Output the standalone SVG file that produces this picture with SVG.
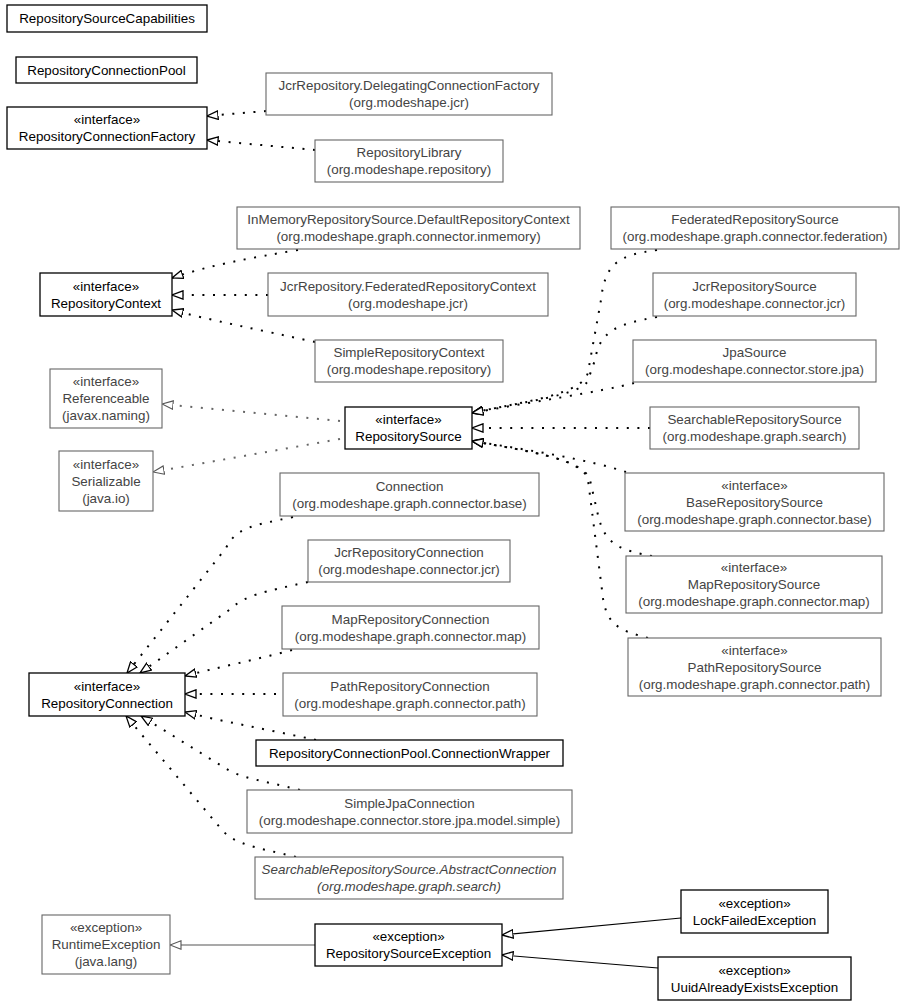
<svg xmlns="http://www.w3.org/2000/svg" width="904" height="1005" viewBox="0 0 904 1005">
<defs>
<style>
text{font-family:"Liberation Sans",Arial,sans-serif;font-size:13.4px;text-anchor:middle}
.b rect{fill:#fff;stroke:#000;stroke-width:1.3}
.b text{fill:#000}
.g rect{fill:#fff;stroke:#666;stroke-width:1.1}
.g text{fill:#444}
.i text{font-style:italic}
.d{fill:none;stroke:#000;stroke-width:2;stroke-dasharray:2 8.6;stroke-linecap:butt}
.dg{fill:none;stroke:#666;stroke-width:2;stroke-dasharray:2 8.6}
.s{fill:none;stroke:#000;stroke-width:1.2}
.sg{fill:none;stroke:#555;stroke-width:1.1}
</style>
<marker id="a" viewBox="0 0 12 10" refX="11.5" refY="5" markerWidth="12" markerHeight="10" markerUnits="userSpaceOnUse" orient="auto"><path d="M0.5,0.8 L11.5,5 L0.5,9.2 z" fill="#fff" stroke="#000" stroke-width="1.3"/></marker>
<marker id="ag" viewBox="0 0 12 10" refX="11.5" refY="5" markerWidth="12" markerHeight="10" markerUnits="userSpaceOnUse" orient="auto"><path d="M0.5,0.8 L11.5,5 L0.5,9.2 z" fill="#fff" stroke="#555" stroke-width="1.1"/></marker>
</defs>
<g id="connectors">
<path class="d" d="M266,111 L207,116" marker-end="url(#a)"/>
<path class="d" d="M315,150 L207,140" marker-end="url(#a)"/>
<path class="d" d="M298,250 C250,258 210,265 172,278" marker-end="url(#a)"/>
<path class="d" d="M268,295 L172,295" marker-end="url(#a)"/>
<path class="d" d="M315,342 C260,330 210,320 172,310" marker-end="url(#a)"/>
<path class="dg" d="M340,421 L162,404" marker-end="url(#ag)"/>
<path class="dg" d="M340,439 L153,472" marker-end="url(#ag)"/>
<path class="d" d="M657,250 C620,255 605,262 601,300 L588,372 C584,395 520,402 472,413" marker-end="url(#a)"/>
<path class="d" d="M657,317 C618,324 600,330 595,360 L588,380 C584,395 520,402 472,413" marker-end="url(#a)"/>
<path class="d" d="M634,383 C600,392 530,402 472,413" marker-end="url(#a)"/>
<path class="d" d="M650,428 L472,428" marker-end="url(#a)"/>
<path class="d" d="M626,472 C590,460 530,450 472,441" marker-end="url(#a)"/>
<path class="d" d="M652,556 C620,550 605,545 598,515 L590,480 C584,458 520,450 472,441" marker-end="url(#a)"/>
<path class="d" d="M648,638 C618,630 605,625 602,590 L588,480 C584,458 520,450 472,441" marker-end="url(#a)"/>
<path class="d" d="M293,517 C250,526 236,528 226,548 L127,673" marker-end="url(#a)"/>
<path class="d" d="M308,582 C262,592 244,596 232,608 L140,673" marker-end="url(#a)"/>
<path class="d" d="M292,650 C255,660 215,668 185,676" marker-end="url(#a)"/>
<path class="d" d="M276,694 L185,694" marker-end="url(#a)"/>
<path class="d" d="M316,740 C270,730 220,721 185,712" marker-end="url(#a)"/>
<path class="d" d="M300,790 C260,780 240,778 225,768 L141,716" marker-end="url(#a)"/>
<path class="d" d="M296,857 C255,847 236,845 222,830 L126,716" marker-end="url(#a)"/>
<path class="sg" d="M315,945 L170,945" marker-end="url(#ag)"/>
<path class="s" d="M681,918 L502,935" marker-end="url(#a)"/>
<path class="s" d="M658,968 L502,955" marker-end="url(#a)"/>
</g>
<g id="RepositorySourceCapabilities" class="b"><rect x="7" y="5" width="200" height="27"/><text x="107" y="23">RepositorySourceCapabilities</text></g>
<g id="RepositoryConnectionPool" class="b"><rect x="16" y="57" width="181" height="26"/><text x="106.5" y="74.5">RepositoryConnectionPool</text></g>
<g id="RepositoryConnectionFactory" class="b"><rect x="7" y="107" width="200" height="42"/><text x="107" y="124">«interface»</text><text x="107" y="141">RepositoryConnectionFactory</text></g>
<g id="DelegatingConnectionFactory" class="g"><rect x="266" y="73" width="286" height="42"/><text x="409" y="90">JcrRepository.DelegatingConnectionFactory</text><text x="409" y="107">(org.modeshape.jcr)</text></g>
<g id="RepositoryLibrary" class="g"><rect x="315" y="140" width="188" height="42"/><text x="409" y="157">RepositoryLibrary</text><text x="409" y="174">(org.modeshape.repository)</text></g>
<g id="DefaultRepositoryContext" class="g"><rect x="237" y="207" width="343" height="42"/><text x="408.5" y="224">InMemoryRepositorySource.DefaultRepositoryContext</text><text x="408.5" y="241">(org.modeshape.graph.connector.inmemory)</text></g>
<g id="RepositoryContext" class="b"><rect x="40" y="273" width="132" height="43"/><text x="106" y="290.5">«interface»</text><text x="106" y="307.5">RepositoryContext</text></g>
<g id="FederatedRepositoryContext" class="g"><rect x="268" y="273" width="280" height="43"/><text x="408" y="290.5">JcrRepository.FederatedRepositoryContext</text><text x="408" y="307.5">(org.modeshape.jcr)</text></g>
<g id="SimpleRepositoryContext" class="g"><rect x="315" y="340" width="188" height="42"/><text x="409" y="357">SimpleRepositoryContext</text><text x="409" y="374">(org.modeshape.repository)</text></g>
<g id="Referenceable" class="g"><rect x="50" y="369" width="112" height="59"/><text x="106" y="386">«interface»</text><text x="106" y="403">Referenceable</text><text x="106" y="420">(javax.naming)</text></g>
<g id="RepositorySource" class="b"><rect x="345" y="407" width="127" height="42"/><text x="408.5" y="424">«interface»</text><text x="408.5" y="441">RepositorySource</text></g>
<g id="Serializable" class="g"><rect x="59" y="451" width="94" height="60"/><text x="106" y="468.5">«interface»</text><text x="106" y="485.5">Serializable</text><text x="106" y="502.5">(java.io)</text></g>
<g id="Connection" class="g"><rect x="280" y="473" width="259" height="43"/><text x="409.5" y="490.5">Connection</text><text x="409.5" y="507.5">(org.modeshape.graph.connector.base)</text></g>
<g id="FederatedRepositorySource" class="g"><rect x="611" y="207" width="288" height="42"/><text x="755" y="224">FederatedRepositorySource</text><text x="755" y="241">(org.modeshape.graph.connector.federation)</text></g>
<g id="JcrRepositorySource" class="g"><rect x="653" y="273" width="203" height="43"/><text x="754.5" y="290.5">JcrRepositorySource</text><text x="754.5" y="307.5">(org.modeshape.connector.jcr)</text></g>
<g id="JpaSource" class="g"><rect x="633" y="340" width="243" height="42"/><text x="754.5" y="357">JpaSource</text><text x="754.5" y="374">(org.modeshape.connector.store.jpa)</text></g>
<g id="SearchableRepositorySource" class="g"><rect x="650" y="407" width="209" height="42"/><text x="754.5" y="424">SearchableRepositorySource</text><text x="754.5" y="441">(org.modeshape.graph.search)</text></g>
<g id="BaseRepositorySource" class="g"><rect x="625" y="473" width="259" height="58"/><text x="754.5" y="489.5">«interface»</text><text x="754.5" y="506.5">BaseRepositorySource</text><text x="754.5" y="523.5">(org.modeshape.graph.connector.base)</text></g>
<g id="MapRepositorySource" class="g"><rect x="626" y="556" width="256" height="57"/><text x="754" y="572">«interface»</text><text x="754" y="589">MapRepositorySource</text><text x="754" y="606">(org.modeshape.graph.connector.map)</text></g>
<g id="PathRepositorySource" class="g"><rect x="628" y="638" width="253" height="58"/><text x="754.5" y="654.5">«interface»</text><text x="754.5" y="671.5">PathRepositorySource</text><text x="754.5" y="688.5">(org.modeshape.graph.connector.path)</text></g>
<g id="JcrRepositoryConnection" class="g"><rect x="308" y="540" width="202" height="42"/><text x="409" y="557">JcrRepositoryConnection</text><text x="409" y="574">(org.modeshape.connector.jcr)</text></g>
<g id="MapRepositoryConnection" class="g"><rect x="282" y="606" width="257" height="43"/><text x="410.5" y="623.5">MapRepositoryConnection</text><text x="410.5" y="640.5">(org.modeshape.graph.connector.map)</text></g>
<g id="PathRepositoryConnection" class="g"><rect x="283" y="673" width="254" height="43"/><text x="410" y="690.5">PathRepositoryConnection</text><text x="410" y="707.5">(org.modeshape.graph.connector.path)</text></g>
<g id="RepositoryConnection" class="b"><rect x="29" y="673" width="156" height="43"/><text x="107" y="690.5">«interface»</text><text x="107" y="707.5">RepositoryConnection</text></g>
<g id="ConnectionWrapper" class="b"><rect x="256" y="740" width="307" height="26"/><text x="409.5" y="757.5">RepositoryConnectionPool.ConnectionWrapper</text></g>
<g id="SimpleJpaConnection" class="g"><rect x="247" y="790" width="325" height="43"/><text x="409.5" y="807.5">SimpleJpaConnection</text><text x="409.5" y="824.5">(org.modeshape.connector.store.jpa.model.simple)</text></g>
<g id="AbstractConnection" class="g i"><rect x="255" y="857" width="308" height="42"/><text x="409" y="874">SearchableRepositorySource.AbstractConnection</text><text x="409" y="891">(org.modeshape.graph.search)</text></g>
<g id="RuntimeException" class="g"><rect x="42" y="915" width="128" height="59"/><text x="106" y="932">«exception»</text><text x="106" y="949">RuntimeException</text><text x="106" y="966">(java.lang)</text></g>
<g id="RepositorySourceException" class="b"><rect x="315" y="924" width="187" height="42"/><text x="408.5" y="941">«exception»</text><text x="408.5" y="958">RepositorySourceException</text></g>
<g id="LockFailedException" class="b"><rect x="681" y="890" width="147" height="43"/><text x="754.5" y="907.5">«exception»</text><text x="754.5" y="924.5">LockFailedException</text></g>
<g id="UuidAlreadyExistsException" class="b"><rect x="658" y="957" width="193" height="43"/><text x="754.5" y="974.5">«exception»</text><text x="754.5" y="991.5">UuidAlreadyExistsException</text></g>
</svg>
